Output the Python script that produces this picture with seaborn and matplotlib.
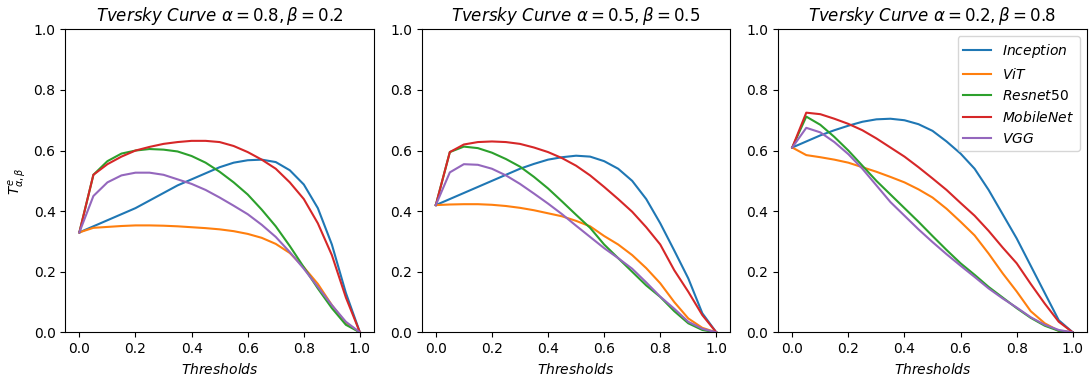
import numpy as np
import pandas as pd
import seaborn as sns
from matplotlib import pyplot as plt

thresholds = [round(0.05 * i, 2) for i in range(21)]
models = ["Inception", "ViT", "Resnet50", "MobileNet", "VGG"]
settings = [(0.8, 0.2), (0.5, 0.5), (0.2, 0.8)]

# alpha=0.8, beta=0.2
p1_inception = [0.33, 0.35, 0.37, 0.39, 0.41, 0.435, 0.46, 0.485, 0.505, 0.525, 0.545,
                0.56, 0.568, 0.57, 0.562, 0.535, 0.488, 0.41, 0.29, 0.13, 0.0]
p1_vit = [0.33, 0.345, 0.348, 0.351, 0.353, 0.353, 0.352, 0.350, 0.347, 0.344, 0.340,
          0.334, 0.325, 0.312, 0.292, 0.262, 0.215, 0.16, 0.09, 0.03, 0.0]
p1_resnet = [0.33, 0.52, 0.565, 0.59, 0.60, 0.605, 0.603, 0.597, 0.582, 0.56, 0.53,
             0.495, 0.455, 0.405, 0.35, 0.285, 0.215, 0.145, 0.08, 0.025, 0.0]
p1_mobilenet = [0.33, 0.52, 0.555, 0.58, 0.60, 0.612, 0.622, 0.628, 0.632, 0.632, 0.628,
                0.615, 0.595, 0.57, 0.54, 0.495, 0.44, 0.36, 0.255, 0.115, 0.0]
p1_vgg = [0.33, 0.45, 0.495, 0.518, 0.527, 0.527, 0.52, 0.505, 0.49, 0.47, 0.445,
          0.418, 0.39, 0.355, 0.315, 0.265, 0.21, 0.15, 0.09, 0.035, 0.0]

# alpha=0.5, beta=0.5
p2_inception = [0.42, 0.44, 0.46, 0.48, 0.50, 0.52, 0.54, 0.556, 0.57, 0.578, 0.583,
                0.58, 0.565, 0.54, 0.5, 0.44, 0.36, 0.27, 0.178, 0.063, 0.0]
p2_vit = [0.42, 0.422, 0.423, 0.423, 0.421, 0.417, 0.411, 0.403, 0.393, 0.383, 0.368,
          0.35, 0.318, 0.29, 0.255, 0.212, 0.162, 0.1, 0.046, 0.015, 0.0]
p2_resnet = [0.42, 0.595, 0.613, 0.608, 0.593, 0.572, 0.547, 0.513, 0.475, 0.432, 0.388,
             0.345, 0.29, 0.245, 0.2, 0.155, 0.117, 0.07, 0.03, 0.008, 0.0]
p2_mobilenet = [0.42, 0.595, 0.62, 0.628, 0.63, 0.628, 0.622, 0.61, 0.595, 0.575, 0.55,
                0.518, 0.48, 0.44, 0.398, 0.347, 0.29, 0.205, 0.134, 0.057, 0.0]
p2_vgg = [0.42, 0.528, 0.555, 0.553, 0.54, 0.518, 0.49, 0.458, 0.425, 0.39, 0.352,
          0.315, 0.278, 0.245, 0.21, 0.165, 0.118, 0.078, 0.035, 0.012, 0.0]

# alpha=0.2, beta=0.8
p3_inception = [0.61, 0.63, 0.65, 0.667, 0.682, 0.695, 0.703, 0.705, 0.70, 0.687, 0.665,
                0.63, 0.59, 0.54, 0.47, 0.39, 0.31, 0.22, 0.13, 0.04, 0.0]
p3_vit = [0.61, 0.585, 0.578, 0.57, 0.56, 0.545, 0.53, 0.513, 0.495, 0.472, 0.445,
          0.408, 0.365, 0.32, 0.26, 0.195, 0.135, 0.07, 0.03, 0.005, 0.0]
p3_resnet = [0.61, 0.712, 0.685, 0.645, 0.6, 0.55, 0.5, 0.455, 0.41, 0.365, 0.318,
             0.272, 0.228, 0.19, 0.15, 0.115, 0.08, 0.048, 0.022, 0.005, 0.0]
p3_mobilenet = [0.61, 0.725, 0.72, 0.705, 0.688, 0.667, 0.64, 0.61, 0.58, 0.545, 0.508,
                0.47, 0.427, 0.385, 0.335, 0.28, 0.228, 0.16, 0.095, 0.035, 0.0]
p3_vgg = [0.61, 0.675, 0.66, 0.628, 0.588, 0.54, 0.485, 0.43, 0.385, 0.34, 0.298,
          0.258, 0.22, 0.183, 0.145, 0.112, 0.082, 0.05, 0.025, 0.008, 0.0]

panels = [
    [p1_inception, p1_vit, p1_resnet, p1_mobilenet, p1_vgg],
    [p2_inception, p2_vit, p2_resnet, p2_mobilenet, p2_vgg],
    [p3_inception, p3_vit, p3_resnet, p3_mobilenet, p3_vgg],
]

fig, axes = plt.subplots(1, 3, figsize=(10.89, 3.76), dpi=100)
fig.subplots_adjust(left=0.06, right=0.998, top=0.922, bottom=0.116, wspace=0.155)

for i, (ax, series, (a, b)) in enumerate(zip(axes, panels, settings)):
    rows = []
    for name, vals in zip(models, series):
        for t, v in zip(thresholds, vals):
            rows.append({"threshold": t, "value": v, "model": f"${name}$"})
    df = pd.DataFrame(rows)
    sns.lineplot(data=df, x="threshold", y="value", hue="model",
                 palette="tab10", linewidth=1.5, ax=ax, legend=(i == 2))
    ax.set_ylim(0, 1)
    ax.set_xticks(np.arange(0, 1.01, 0.2))
    ax.set_title(rf"$Tversky\ Curve\ \alpha={a}, \beta={b}$", fontsize=12)
    ax.set_xlabel("$Thresholds$")
    ax.set_ylabel(r"$T^{e}_{\alpha,\beta}$" if i == 0 else "")
    if i == 2:
        ax.legend(loc="upper right", fontsize=10)

plt.savefig("out.png")
plt.close()
